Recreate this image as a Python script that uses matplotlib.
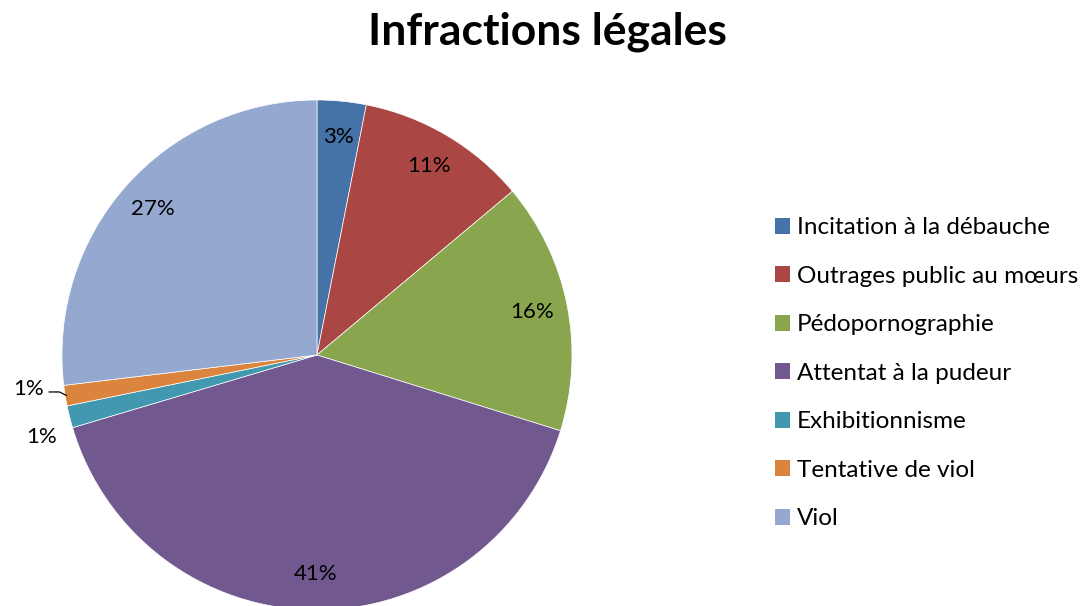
import numpy as np
import matplotlib.pyplot as plt
from matplotlib.patches import Patch

plt.rcParams['font.family'] = ['Lato', 'DejaVu Sans']

# données
categories = ['Incitation à la débauche', 'Outrages public au mœurs', 'Pédopornographie',
              'Attentat à la pudeur', 'Exhibitionnisme', 'Tentative de viol', 'Viol']
values = [3.1, 10.8, 15.9, 40.6, 1.4, 1.3, 26.9]
colors = ['#4572A7', '#AA4643', '#89A54E', '#71588F', '#4198AF', '#DB843D', '#95A9D0']

fig = plt.figure(figsize=(10.91, 6.06), dpi=100)
ax = fig.add_axes([0.0568, -0.0066, 0.4675, 0.8416])

wedges, texts, autotexts = ax.pie(values, colors=colors, startangle=90, counterclock=False,
                                  autopct='%1.0f%%', pctdistance=0.86, radius=1,
                                  wedgeprops=dict(edgecolor='white', linewidth=0.5),
                                  textprops=dict(fontsize=16, color='black'))
ax.set_xlim(-1, 1)
ax.set_ylim(-1, 1)
ax.set_aspect('auto')
ax.axis('off')

# petites parts : étiquettes à l'extérieur
autotexts[4].set_position((-1.08, -0.32))
autotexts[5].set_position((-1.13, -0.135))
ang = np.deg2rad((wedges[5].theta1 + wedges[5].theta2) / 2)
ax.plot([-1.05, -1.01, np.cos(ang) * 0.995], [-0.145, -0.145, np.sin(ang) * 0.995],
        color='black', lw=0.9, clip_on=False)

fig.text(0.502, 0.948, 'Infractions légales', ha='center', va='center',
         fontsize=32, fontweight='bold')

handles = [Patch(facecolor=c, edgecolor='none') for c in colors]
fig.legend(handles, categories, loc='center left', bbox_to_anchor=(0.690, 0.384),
           frameon=False, fontsize=17.5, handlelength=0.62, handleheight=0.62,
           handletextpad=0.3, labelspacing=1.13)

fig.savefig('out.png', dpi=100)
